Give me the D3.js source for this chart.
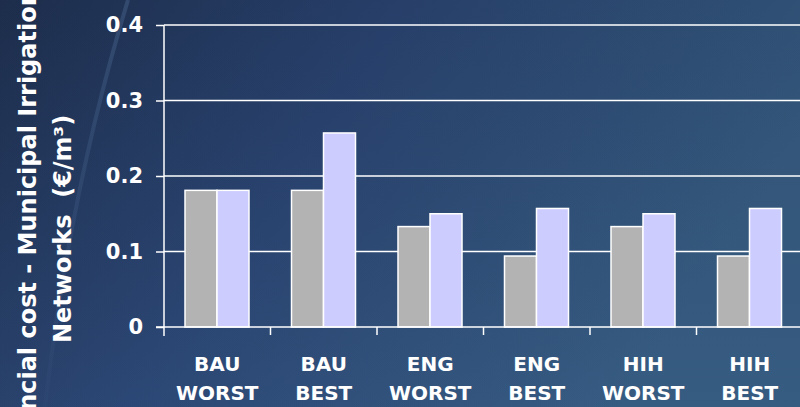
<!DOCTYPE html>
<html>
<head>
<meta charset="utf-8">
<script src="https://cdn.jsdelivr.net/npm/d3@7"></script>
<style>
  html, body { margin: 0; padding: 0; background: #243b63; }
  svg { display: block; }
</style>
</head>
<body>
<svg width="800" height="407"></svg>
<script>
var width = 800;
var height = 407;

var categories = [["BAU", "WORST"], ["BAU", "BEST"], ["ENG", "WORST"], ["ENG", "BEST"], ["HIH", "WORST"], ["HIH", "BEST"]];
var greyValues = [0.181, 0.181, 0.133, 0.094, 0.133, 0.094];
var lilacValues = [0.181, 0.257, 0.150, 0.157, 0.150, 0.157];
var yTicks = [0, 0.1, 0.2, 0.3, 0.4];
var titleLines = ["Financial cost - Municipal Irrigation", "Networks  (€/m³)"];

var plotLeft = 164, plotTop = 25, plotBottom = 327;

var svg = d3.select('svg');
var defs = svg.append('defs');

// background gradient
var bg = defs.append('linearGradient').attr('id', 'bg')
    .attr('x1', '0').attr('y1', '0').attr('x2', '1').attr('y2', '0.35');
bg.append('stop').attr('offset', '0').attr('stop-color', '#1f3050');
bg.append('stop').attr('offset', '0.45').attr('stop-color', '#294370');
bg.append('stop').attr('offset', '1').attr('stop-color', '#35597e');
svg.append('rect').attr('width', width).attr('height', height).attr('fill', 'url(#bg)');

var vshade = defs.append('linearGradient').attr('id', 'vshade')
    .attr('x1', '0').attr('y1', '0').attr('x2', '0').attr('y2', '1');
vshade.append('stop').attr('offset', '0').attr('stop-color', '#000').attr('stop-opacity', 0.06);
vshade.append('stop').attr('offset', '1').attr('stop-color', '#4a7ab0').attr('stop-opacity', 0.08);
svg.append('rect').attr('width', width).attr('height', height).attr('fill', 'url(#vshade)');

// faint light streak
var streak = defs.append('linearGradient').attr('id', 'streak')
    .attr('x1', '0').attr('y1', '0').attr('x2', '0').attr('y2', '1');
streak.append('stop').attr('offset', '0').attr('stop-color', '#7fa6d6').attr('stop-opacity', 0.2);
streak.append('stop').attr('offset', '1').attr('stop-color', '#7fa6d6').attr('stop-opacity', 0.02);
svg.append('path')
    .attr('d', 'M128,0 Q70,190 45,407')
    .attr('fill', 'none')
    .attr('stroke', 'url(#streak)')
    .attr('stroke-width', 4);

var x = d3.scaleBand().domain(d3.range(categories.length)).range([plotLeft, plotLeft + 6 * 106.5]);
var sub = d3.scaleBand().domain([0, 1]).range([21, x.bandwidth() - 21.5]);
var y = d3.scaleLinear().domain([0, 0.4]).range([plotBottom, plotTop]);

// gridlines
svg.append('g').selectAll('line').data(yTicks.filter(function(d) { return d > 0; })).enter()
    .append('line')
    .attr('x1', plotLeft).attr('x2', width)
    .attr('y1', function(d) { return y(d); }).attr('y2', function(d) { return y(d); })
    .attr('stroke', '#ffffff').attr('stroke-width', 1.5);

// bars
var groups = svg.append('g').selectAll('g').data(categories).enter()
    .append('g').attr('transform', function(d, i) { return 'translate(' + x(i) + ',0)'; });
groups.append('rect')
    .attr('x', sub(0)).attr('width', sub.bandwidth())
    .attr('y', function(d, i) { return y(greyValues[i]); })
    .attr('height', function(d, i) { return y(0) - y(greyValues[i]); })
    .attr('fill', '#b3b3b3').attr('stroke', '#ffffff').attr('stroke-width', 1.5);
groups.append('rect')
    .attr('x', sub(1)).attr('width', sub.bandwidth())
    .attr('y', function(d, i) { return y(lilacValues[i]); })
    .attr('height', function(d, i) { return y(0) - y(lilacValues[i]); })
    .attr('fill', '#ccccff').attr('stroke', '#ffffff').attr('stroke-width', 1.5);

// y axis
var yAxis = svg.append('g').attr('transform', 'translate(' + plotLeft + ',0)')
    .call(d3.axisLeft(y).tickValues(yTicks).tickSize(8).tickPadding(13).tickFormat(function(d) { return d === 0 ? '0' : d3.format('.1f')(d); }));
yAxis.select('.domain').remove();
yAxis.selectAll('line').attr('stroke', '#fff').attr('stroke-width', 1.5);
yAxis.selectAll('text').attr('fill', '#fff')
    .style('font-family', '"DejaVu Sans", Verdana, sans-serif')
    .style('font-weight', 'bold').style('font-size', '21px');
svg.append('line').attr('x1', plotLeft).attr('x2', plotLeft).attr('y1', plotTop).attr('y2', plotBottom + 9)
    .attr('stroke', '#fff').attr('stroke-width', 1.5);

// x axis
svg.append('line').attr('x1', plotLeft - 8).attr('x2', width).attr('y1', plotBottom).attr('y2', plotBottom)
    .attr('stroke', '#fff').attr('stroke-width', 1.5);
svg.append('g').selectAll('line').data(d3.range(1, categories.length)).enter()
    .append('line')
    .attr('x1', function(d) { return x(d); }).attr('x2', function(d) { return x(d); })
    .attr('y1', plotBottom).attr('y2', plotBottom + 8)
    .attr('stroke', '#fff').attr('stroke-width', 1.5);

var labels = svg.append('g').selectAll('text').data(categories).enter()
    .append('text')
    .attr('text-anchor', 'middle')
    .attr('fill', '#fff')
    .style('font-family', '"DejaVu Sans", Verdana, sans-serif')
    .style('font-weight', 'bold').style('font-size', '20px');
labels.append('tspan').attr('x', function(d, i) { return x(i) + x.bandwidth() / 2; }).attr('y', 371).text(function(d) { return d[0]; });
labels.append('tspan').attr('x', function(d, i) { return x(i) + x.bandwidth() / 2; }).attr('y', 400).text(function(d) { return d[1]; });

// y title
var title = svg.append('text')
    .attr('transform', 'translate(0,229) rotate(-90)')
    .attr('text-anchor', 'middle')
    .attr('fill', '#fff')
    .style('white-space', 'pre')
    .style('font-family', '"DejaVu Sans", Verdana, sans-serif')
    .style('font-weight', 'bold').style('font-size', '24px');
title.append('tspan').attr('x', 0).attr('y', 36).text(titleLines[0]);
title.append('tspan').attr('x', 0).attr('y', 71).text(titleLines[1]);
</script>
</body>
</html>
